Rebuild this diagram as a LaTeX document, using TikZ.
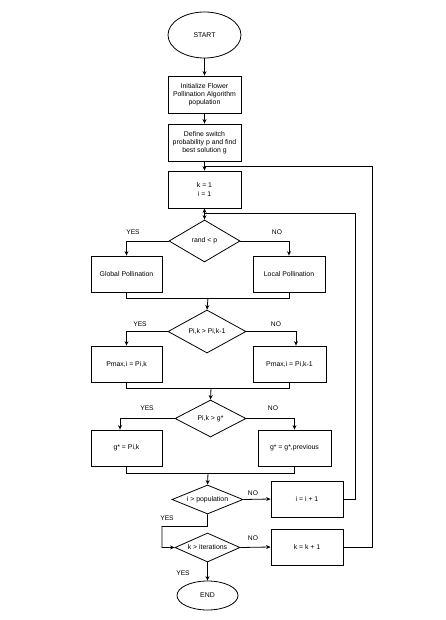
\documentclass[tikz,border=0pt]{standalone}
\usepackage{fontspec}
\setmainfont{Liberation Sans}
\usetikzlibrary{shapes.geometric,arrows.meta}
\begin{document}
\begin{tikzpicture}[x=1pt,y=-1pt,
  every node/.style={font=\fontsize{6.9}{8.2}\selectfont, align=center, inner sep=0pt},
  line/.style={draw=black, line width=0.8pt},
  arr/.style={line, -{Stealth[length=4.5pt,width=4pt]}},
  proc/.style={draw=black, line width=0.8pt, rectangle, minimum width=72pt, minimum height=36pt},
  dec/.style={draw=black, line width=0.8pt, diamond, aspect=2.4},
  term/.style={draw=black, line width=0.8pt, ellipse},
  lbl/.style={font=\fontsize{6.7}{8}\selectfont}]
\useasboundingbox[fill=white] (0,0) rectangle (446,620);

% nodes
\node[term, minimum width=73pt, minimum height=46pt] (start) at (204.5,35) {START};
\node[proc, minimum width=73pt, minimum height=37pt] (init) at (204.5,94.5) {Initialize Flower\\Pollination Algorithm\\population};
\node[proc, minimum width=73pt, minimum height=37pt] (def) at (204.5,142.5) {Define switch\\probability p and find\\best solution g};
\node[proc, minimum width=73pt, minimum height=37pt] (kinit) at (204.5,189.5) {k = 1\\i = 1};
\node[dec, minimum width=71pt, minimum height=42pt] (d1) at (204.5,241) {rand < p};
\node[proc, minimum width=71pt] (glob) at (126.5,274) {Global Pollination};
\node[proc, minimum width=72pt] (loc) at (289,274) {Local Pollination};
\node[dec, minimum width=78pt, minimum height=43pt] (d2) at (207,331.5) {Pi,k > Pi,k-1};
\node[proc, minimum width=71pt] (pm1) at (126.5,364) {Pmax,i = Pi,k};
\node[proc, minimum width=73pt] (pm2) at (289.5,364) {Pmax,i = Pi,k-1};
\node[dec, minimum width=71pt, minimum height=37pt] (d3) at (210.5,418.5) {Pi,k > g*};
\node[proc, minimum width=71pt] (g1) at (126.5,448) {g* = Pi,k};
\node[proc, minimum width=73pt] (g2) at (294.5,448) {g* = g*,previous};
\node[dec, minimum width=71pt, minimum height=29pt] (d4) at (207.5,499.5) {i > population};
\node[proc, minimum width=72pt] (inc) at (307,499) {i = i + 1};
\node[dec, minimum width=65pt, minimum height=29pt] (d5) at (207.5,547.5) {k > iterations};
\node[proc, minimum width=72pt] (kinc) at (307,547) {k = k + 1};
\node[term, minimum width=61pt, minimum height=29pt] (end) at (207.5,595.5) {END};

% coordinates
\coordinate (j1) at (204.5,213);
\coordinate (j0) at (204.5,166);
\coordinate (m1) at (208,298);
\coordinate (m2) at (211,388);
\coordinate (m3) at (208,473);

% main flow
\draw[arr] (start) -- (init);
\draw[arr] (init) -- (def);
\draw[arr] (def) -- (kinit);
\draw[arr] (kinit) -- (d1);

% decision 1
\draw[arr] (d1.west) -| (glob.north);
\draw[arr] (d1.east) -| (loc.north);
\draw[line] (glob.south) |- (m1);
\draw[line] (loc.south) |- (m1);
\draw[arr] (m1) -- (d2.north);

% decision 2
\draw[arr] (d2.west) -| (pm1.north);
\draw[arr] (d2.east) -| ([xshift=6.5pt]pm2.north);
\draw[line] (pm1.south) |- (m2);
\draw[line] (pm2.south) |- (m2);
\draw[arr] (m2) -- (d3.north);

% decision 3
\draw[arr] (d3.west) -| ([xshift=-6.5pt]g1.north);
\draw[arr] (d3.east) -| (g2.north);
\draw[line] (g1.south) |- (m3);
\draw[line] (g2.south) |- (m3);
\draw[arr] (m3) -- (d4.north);

% decision 4
\draw[arr] (d4.east) -- (inc.west);
\draw[arr] (inc.east) -- ++(12,0) |- (j1) -- (kinit.south);
\draw[arr] (d4.south) -- ++(0,12) -| ++(-45.5,21) -- (d5.west);

% decision 5
\draw[arr] (d5.east) -- (kinc.west);
\draw[line] (kinc.east) -- ++(29,0) |- (j0);
\draw[arr] (d5.south) -- (end.north);

% labels
\node[lbl] at (133,232) {YES};
\node[lbl] at (277,232) {NO};
\node[lbl] at (140,324) {YES};
\node[lbl] at (276,324) {NO};
\node[lbl] at (147,408) {YES};
\node[lbl] at (273,408) {NO};
\node[lbl] at (253,493) {NO};
\node[lbl] at (167,518) {YES};
\node[lbl] at (253,538) {NO};
\node[lbl] at (183,573) {YES};
\end{tikzpicture}
\end{document}
